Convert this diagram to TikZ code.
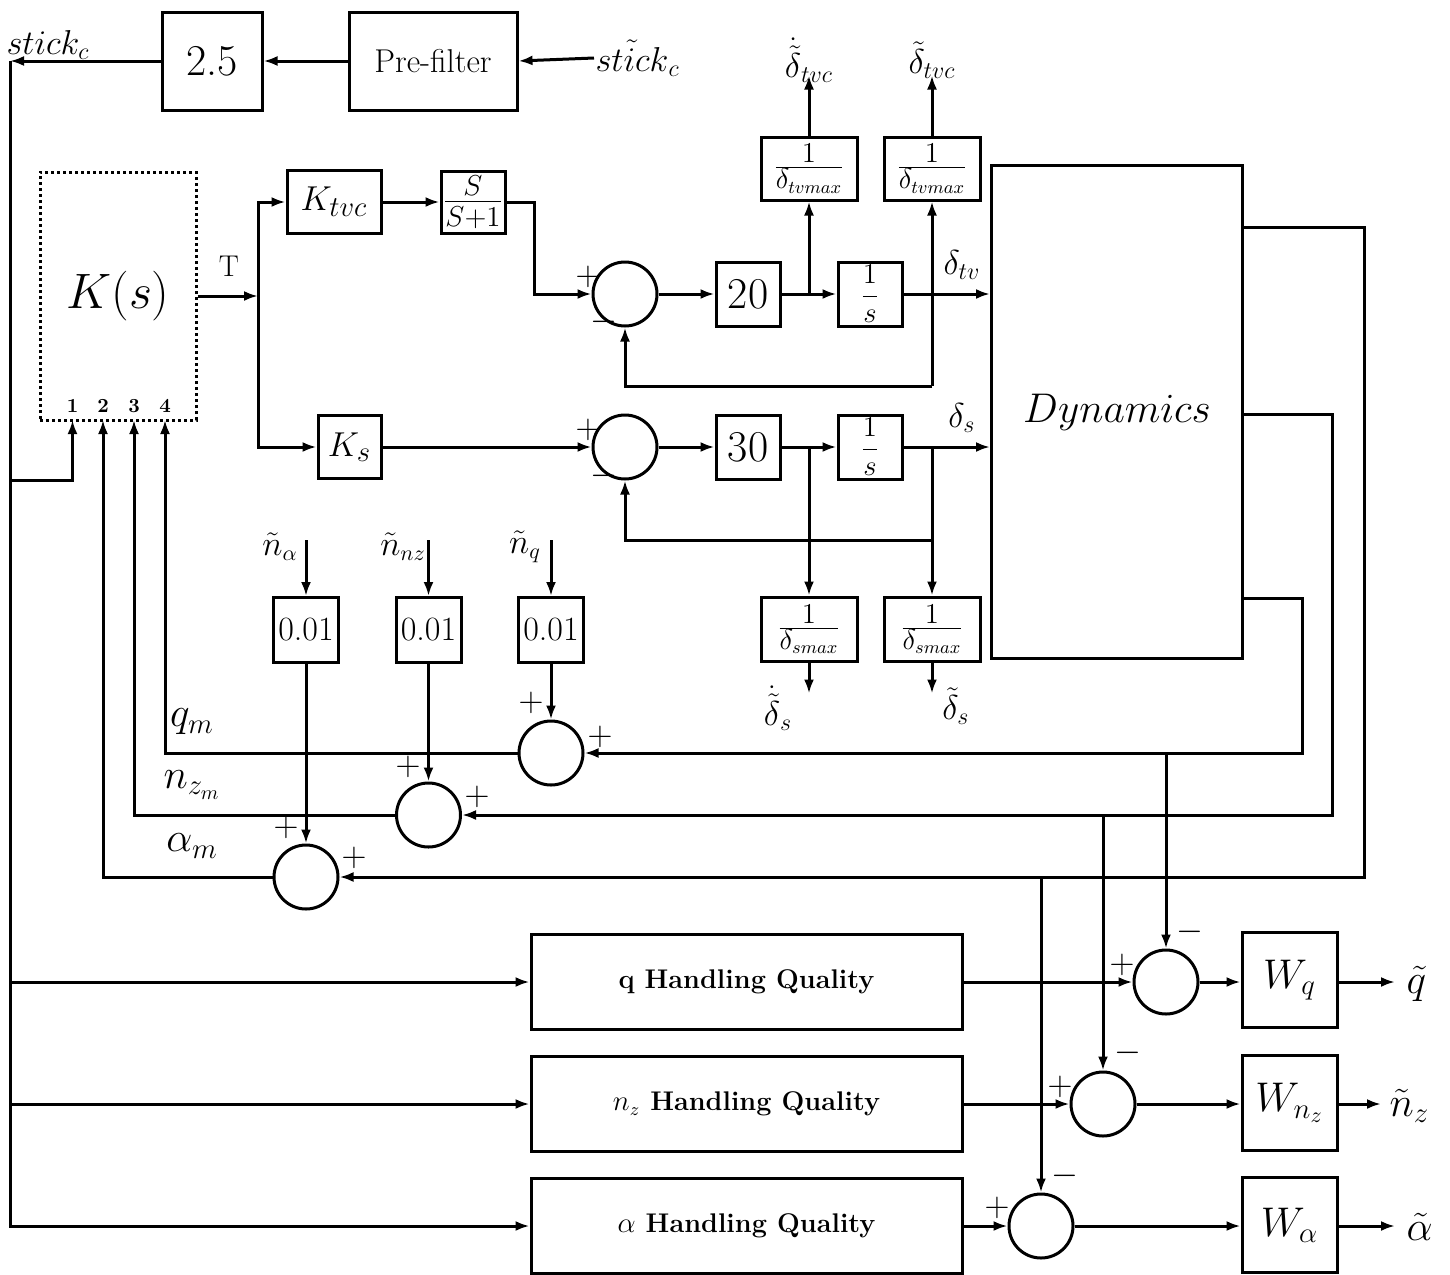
\documentclass[tikz,border=0pt]{standalone}
\usetikzlibrary{arrows.meta}
\newcommand\fsz[1]{\fontsize{#1}{#1}\selectfont}
\begin{document}
\begin{tikzpicture}[x=0.5pt,y=-0.5pt,
  line width=1.5pt,
  >={Latex[length=7pt,width=5pt]},
  blk/.style={draw,line width=1.5pt,inner sep=0pt},
  sumc/.style={draw,circle,line width=1.5pt,minimum size=32pt,inner sep=0pt},
  lab/.style={inner sep=0pt},
  sgn/.style={inner sep=0pt,font=\fsz{18}},
]
\useasboundingbox (0,0) rectangle (1450,1274);

% ---------- top row ----------
\node[blk,minimum width=50pt,minimum height=49pt] (g25) at (212,61) {\fsz{22}2.5};
\node[blk,minimum width=84pt,minimum height=49pt] (pre) at (433,61) {\fsz{16.5}Pre-filter};
\node[lab,anchor=west] (stin) at (594,58) {\fsz{17}$\tilde{stick}_c$};
\coordinate (tl) at (10,61);
\draw[->] (stin.west) -- (pre.east);
\draw[->] (pre.west) -- (g25.east);
\draw[->] (g25.west) -- (tl);
\node[lab] at (48,45) {\fsz{17}$stick_c$};

% ---------- controller ----------
\node[blk,dash pattern=on 1.6pt off 1.4pt,minimum width=78pt,minimum height=124pt] (K) at (118,296) {\fsz{24}$K(s)$};
\coordinate (p1) at (72.5,420);
\coordinate (p2) at (103,420);
\coordinate (p3) at (134,420);
\coordinate (p4) at (165,420);
\foreach \i/\xx in {1/72.5,2/103,3/134,4/165}
  \node[lab,font=\fsz{10}\bfseries] at (\xx,406) {\i};
\coordinate (t480) at (10,480);
\draw[->] (t480) -| (p1);

% trunk
\node[blk,minimum width=215.5pt,minimum height=47.5pt] (hq1) at (746.5,982) {\fsz{13.5}\bfseries q Handling Quality};
\node[blk,minimum width=215.5pt,minimum height=47.5pt] (hq2) at (746.5,1104) {\fsz{13.5}\bfseries $n_z$ Handling Quality};
\node[blk,minimum width=215.5pt,minimum height=47.5pt] (hq3) at (746.5,1226) {\fsz{13.5}\bfseries $\alpha$ Handling Quality};
\coordinate (tb) at (10,1226);
\draw[->] (tl) -- (tb) -- (hq3.west);
\draw[->] (tl |- hq1.west) -- (hq1.west);
\draw[->] (tl |- hq2.west) -- (hq2.west);

% ---------- T branch ----------
\coordinate (tj) at (258,296);
\node[lab] at (229,266) {\fsz{15}T};
\node[blk,minimum width=47pt,minimum height=31.5pt] (Ktvc) at (334,202) {\fsz{19}$K_{tvc}$};
\node[blk,minimum width=32pt,minimum height=31pt] (SS) at (473,202) {\fsz{20}$\frac{S}{S+1}$};
\node[blk,minimum width=31.5pt,minimum height=31.5pt] (Ks) at (349.5,447) {\fsz{19}$K_s$};
\draw[->] (K.east) -- (tj);
\draw[->] (tj) |- (Ktvc.west);
\draw[->] (tj) |- (Ks.west);
\draw[->] (Ktvc.east) -- (SS.west);

% ---------- upper loop ----------
\node[sumc] (c1) at (625,294) {};
\node[blk,minimum width=32pt,minimum height=32pt] (b20) at (748,294) {\fsz{22}20};
\node[blk,minimum width=32pt,minimum height=32pt] (is1) at (870,294) {\fsz{14}$\displaystyle\frac{1}{s}$};
\node[blk,minimum width=48pt,minimum height=31.5pt] (n1) at (809,168.5) {\fsz{19}$\frac{1}{\delta_{tvmax}}$};
\node[blk,minimum width=48pt,minimum height=31.5pt] (n2) at (932,168.5) {\fsz{19}$\frac{1}{\delta_{tvmax}}$};
\node[blk,minimum width=125.5pt,minimum height=246.5pt] (dyn) at (1117,412) {\fsz{21}$Dynamics$};
\draw[->] (SS.east) -- ++(28,0) |- (c1.west);
\draw[->] (c1.east) -- (b20.west);
\draw[->] (b20.east) -- (is1.west);
\coordinate (j1) at (809,294);
\coordinate (j2) at (932,294);
\coordinate (fb1) at (932,386);
\draw[->] (j1) -- (n1.south);
\draw[->] (n1.north) -- ++(0,-60) coordinate (o1);
\draw[->] (n2.north) -- ++(0,-60) coordinate (o2);
\node[lab] at (809,60) {\fsz{17}$\dot{\tilde\delta}_{tvc}$};
\node[lab] at (932,60) {\fsz{17}$\tilde\delta_{tvc}$};
\draw[->] (is1.east) -- (j1 -| dyn.west);
\draw[->] (fb1) -- (n2.south);
\draw[->] (fb1) -| (c1.south);
\node[lab] at (962,265) {\fsz{17}$\delta_{tv}$};
\node[sgn] at (588,277) {$+$};
\node[sgn] at (604,322) {$-$};

% ---------- lower loop ----------
\node[sumc] (c2) at (625,447) {};
\node[blk,minimum width=32pt,minimum height=32pt] (b30) at (748,447) {\fsz{22}30};
\node[blk,minimum width=32pt,minimum height=32pt] (is2) at (870,447) {\fsz{14}$\displaystyle\frac{1}{s}$};
\node[blk,minimum width=48pt,minimum height=32pt] (n3) at (809,629) {\fsz{19}$\frac{1}{\delta_{smax}}$};
\node[blk,minimum width=48pt,minimum height=32pt] (n4) at (932,629) {\fsz{19}$\frac{1}{\delta_{smax}}$};
\draw[->] (Ks.east) -- (c2.west);
\draw[->] (c2.east) -- (b30.west);
\draw[->] (b30.east) -- (is2.west);
\coordinate (j3) at (809,447);
\coordinate (j4) at (932,447);
\coordinate (fb2) at (932,540);
\draw[->] (is2.east) -- (j4 -| dyn.west);
\draw[->] (j3) -- (n3.north);
\draw[->] (j4) -- (n4.north);
\draw[->] (fb2) -| (c2.south);
\draw[->] (n3.south) -- ++(0,31);
\draw[->] (n4.south) -- ++(0,31);
\node[lab] at (778,708) {\fsz{17}$\dot{\tilde\delta}_s$};
\node[lab] at (956,706) {\fsz{17}$\tilde\delta_s$};
\node[lab] at (962,418) {\fsz{17}$\delta_s$};
\node[sgn] at (588,430) {$+$};
\node[sgn] at (604,476) {$-$};

% ---------- sensor noise ----------
\node[blk,minimum width=32.5pt,minimum height=32.5pt] (g1) at (306,630) {\fsz{17}0.01};
\node[blk,minimum width=32.5pt,minimum height=32.5pt] (g2) at (428.5,630) {\fsz{17}0.01};
\node[blk,minimum width=32.5pt,minimum height=32.5pt] (g3) at (551,630) {\fsz{17}0.01};
\coordinate (na) at (306,540);
\coordinate (nn) at (428.5,540);
\coordinate (nq) at (551,540);
\draw[->] (na) -- (g1.north);
\draw[->] (nn) -- (g2.north);
\draw[->] (nq) -- (g3.north);
\node[lab] at (280,547) {\fsz{16}$\tilde n_\alpha$};
\node[lab] at (403,547) {\fsz{16}$\tilde n_{nz}$};
\node[lab] at (525,547) {\fsz{16}$\tilde n_q$};

\node[sumc] (cq) at (551,753) {};
\node[sumc] (cn) at (428.5,815) {};
\node[sumc] (ca) at (306,877) {};
\draw[->] (g1.south) -- (ca.north);
\draw[->] (g2.south) -- (cn.north);
\draw[->] (g3.south) -- (cq.north);
\draw[->] (cq.west) -| (p4);
\draw[->] (cn.west) -| (p3);
\draw[->] (ca.west) -| (p2);
\node[lab] at (192,722) {\fsz{20}$q_m$};
\node[lab] at (192,785) {\fsz{20}$n_{z_m}$};
\node[lab] at (192,846) {\fsz{20}$\alpha_m$};
\node[sgn] at (531,703) {$+$};
\node[sgn] at (600,737) {$+$};
\node[sgn] at (408,767) {$+$};
\node[sgn] at (477,797) {$+$};
\node[sgn] at (286,828) {$+$};
\node[sgn] at (354,858) {$+$};

% ---------- dynamics outputs ----------
\coordinate (r1) at (1364,227);
\coordinate (r2) at (1332,414);
\coordinate (r3) at (1302,598);
\coordinate (a1) at (1364,877);
\coordinate (a2) at (1332,815);
\coordinate (a3) at (1302,753);
\draw[->] (r1 -| dyn.east) -- (r1) -- (a1) -- (ca.east);
\draw[->] (r2 -| dyn.east) -- (r2) -- (a2) -- (cn.east);
\draw[->] (r3 -| dyn.east) -- (r3) -- (a3) -- (cq.east);

% ---------- comparisons ----------
\node[sumc] (Cq) at (1166,982) {};
\node[sumc] (Cn) at (1103,1104) {};
\node[sumc] (Ca) at (1041,1226) {};
\node[blk,minimum width=47.5pt,minimum height=47.5pt] (Wq) at (1289.5,980) {\fsz{22}$W_q$};
\node[blk,minimum width=47.5pt,minimum height=47.5pt] (Wn) at (1289.5,1103) {\fsz{22}$W_{n_z}$};
\node[blk,minimum width=47.5pt,minimum height=47.5pt] (Wa) at (1289.5,1225) {\fsz{22}$W_\alpha$};
\draw[->] (Cq.north |- a3) -- (Cq.north);
\draw[->] (Cn.north |- a2) -- (Cn.north);
\draw[->] (Ca.north |- a1) -- (Ca.north);
\draw[->] (hq1.east) -- (Cq.west);
\draw[->] (hq2.east) -- (Cn.west);
\draw[->] (hq3.east) -- (Ca.west);
\draw[->] (Cq.east) -- (Cq.east -| Wq.west);
\draw[->] (Cn.east) -- (Cn.east -| Wn.west);
\draw[->] (Ca.east) -- (Ca.east -| Wa.west);
\coordinate (oq) at (1395,982);
\coordinate (on) at (1381,1104);
\coordinate (oa) at (1395,1226);
\draw[->] (Wq.east |- oq) -- (oq);
\draw[->] (Wn.east |- on) -- (on);
\draw[->] (Wa.east |- oa) -- (oa);
\node[lab,anchor=west] at (1405,984) {\fsz{22}$\tilde q$};
\node[lab,anchor=west] at (1388,1106) {\fsz{22}$\tilde n_z$};
\node[lab,anchor=west] at (1405,1227) {\fsz{22}$\tilde\alpha$};
\node[sgn] at (1122,965) {$+$};
\node[sgn] at (1190,932) {$-$};
\node[sgn] at (1060,1087) {$+$};
\node[sgn] at (1128,1053) {$-$};
\node[sgn] at (997,1208) {$+$};
\node[sgn] at (1065,1176) {$-$};
\end{tikzpicture}
\end{document}
